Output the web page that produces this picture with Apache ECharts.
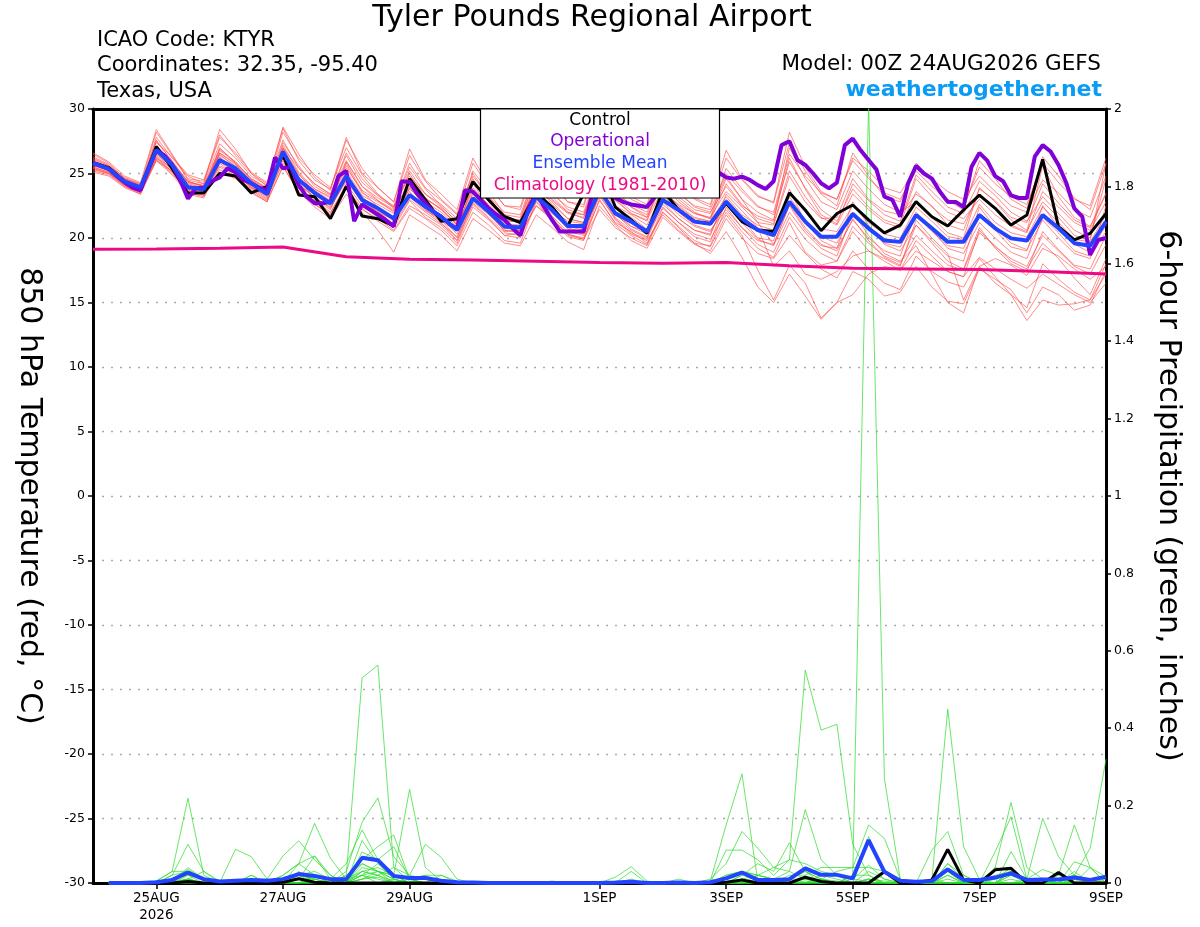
<!DOCTYPE html>
<html>
<head>
<meta charset="utf-8">
<script src="https://cdn.jsdelivr.net/npm/echarts@6/dist/echarts.min.js"></script>
<style>html,body{margin:0;padding:0;background:#fff}#c{width:1200px;height:927px}</style>
</head>
<body>
<div id="c"></div>
<script>
// ---- time coordinates (hours after 00Z 24AUG2026) ----
const hours6 = [0,6,12,18,24,30,36,42,48,54,60,66,72,78,84,90,96,102,108,114,120,126,132,138,144,150,156,162,168,174,180,186,192,198,204,210,216,222,228,234,240,246,252,258,264,270,276,282,288,294,300,306,312,318,324,330,336,342,348,354,360,366,372,378,384];
const hours3 = [0,3,6,9,12,15,18,21,24,27,30,33,36,39,42,45,48,51,54,57,60,63,66,69,72,75,78,81,84,87,90,93,96,99,102,105,108,111,114,117,120,123,126,129,132,135,138,141,144,147,150,153,156,159,162,165,168,171,174,177,180,183,186,189,192,195,198,201,204,207,210,213,216,219,222,225,228,231,234,237,240,243,246,249,252,255,258,261,264,267,270,273,276,279,282,285,288,291,294,297,300,303,306,309,312,315,318,321,324,327,330,333,336,339,342,345,348,351,354,357,360,363,366,369,372,375,378,381,384];
const hoursDaily = [0,24,48,72,96,120,144,168,192,216,240,264,288,312,336,360,384];
const precipHours = [6,12,18,24,30,36,42,48,54,60,66,72,78,84,90,96,102,108,114,120,126,132,138,144,150,156,162,168,174,180,186,192,198,204,210,216,222,228,234,240,246,252,258,264,270,276,282,288,294,300,306,312,318,324,330,336,342,348,354,360,366,372,378,384];

// ---- x tick labels ----
const tickHours = [24,72,120,192,240,288,336,384];
const tickLabels = ['25AUG\n2026','27AUG','29AUG','1SEP','3SEP','5SEP','7SEP','9SEP'];

// ---- 850 hPa temperature (deg C) ----
const controlT = [25.84,25.45,24.37,23.85, 27.08,25.4,23.46,23.5, 25.0,24.8,23.5,24.0, 26.43,23.33,23.2,21.5, 24.0,21.7,21.5,20.93, 24.6,22.95,21.3,21.5, 24.37,22.95,21.65,21.2, 23.5,22.4,20.93,23.46, 25.5,22.4,21.4,20.36, 23.7,22.17,21.27,21.1, 22.69,21.27,20.62,20.5, 23.5,22.17,20.57,21.9, 22.56,21.4,20.4,21.0, 22.82,21.65,20.93,22.17, 23.33,22.3,21.0,21.78, 26.1,20.88,19.85,20.36, 21.9];
const meanT = [25.8,25.35,24.37,23.93, 26.82,25.66,23.93,23.77, 26.05,25.4,24.24,23.4, 26.69,24.5,23.5,22.69, 24.8,22.95,22.3,21.52, 23.33,22.43,21.65,20.62, 23.08,22.04,20.88,20.83, 23.2,22.17,20.93,20.93, 23.72,21.91,21.27,20.5, 22.95,22.17,21.27,21.1, 22.82,21.5,20.62,20.23, 22.82,21.27,20.1,20.1, 21.86,20.75,19.8,19.7, 21.78,20.75,19.7,19.7, 21.78,20.75,19.97,19.8, 21.78,20.75,19.6,19.4, 21.27];
const operationalT = [25.8,25.6,25.35,24.8,24.3,23.9,23.7,25.3,26.8,26.4,
 25.7,24.5,23.05,23.85,23.9,24.4,24.7,25.4,25.1,24.5,
 24.25,23.9,23.7,26.25,25.4,25.5,24.1,23.2,22.7,22.7,
 22.8,24.8,25.2,21.3,22.6,22.2,21.8,21.4,20.9,24.4,
 24.35,23.4,22.7,22.05,21.65,21.1,20.7,23.7,23.6,22.95,
 22.3,21.8,21.4,20.75,20.2,22.2,23.5,22.4,21.4,20.5,
 20.5,20.5,20.5,23.2,24.0,23.5,23.1,22.8,22.6,22.5,
 22.4,23.2,24.2,24.5,24.8,24.9,25.1,25.3,25.4,25.1,
 24.7,24.6,24.75,24.5,24.1,23.8,24.4,27.2,27.5,26.05,
 25.66,25.0,24.24,23.85,24.3,27.2,27.7,26.8,26.05,25.3,
 23.2,22.95,21.65,24.24,25.6,25.0,24.6,23.6,22.8,22.8,
 22.4,25.5,26.6,26.0,24.8,24.4,23.3,23.1,23.1,26.3,
 27.2,26.7,25.66,24.24,22.3,21.65,18.7,19.85,20.0];
const climatologyT = [19.12,19.15,19.2,19.3,18.55,18.35,18.3,18.2,18.1,18.05,18.1,17.85,17.65,17.6,17.55,17.4,17.2];

// ensemble members (temperature)
const memT01 = [26.2,25.6,24.5,24.0, 27.5,26.0,24.3,24.1, 26.8,25.9,24.6,23.9, 27.2,25.1,23.8,23.2, 25.6,23.5,22.8,22.1, 24.2,23.0,22.3,21.0, 23.9,22.5,21.2,21.4, 24.0,22.8,21.5,21.2, 24.6,22.5,21.8,21.0, 23.5,22.6,21.9,21.6, 23.6,22.4,21.2,21.0, 24.8,22.8,21.5,21.6, 24.6,23.0,22.1,21.8, 23.4,22.5,21.0,20.6, 23.8,22.9,21.6,21.2, 24.2,22.7,21.4,20.8, 23.4];
const memT02 = [25.5,25.1,24.1,23.6, 26.3,25.1,23.6,23.4, 25.5,24.8,23.8,23.0, 26.0,23.8,22.9,22.0, 24.0,22.2,21.5,20.6, 22.5,21.8,21.0,19.8, 22.6,21.5,20.2,20.4, 22.5,21.6,20.3,20.0, 22.9,21.2,20.5,19.6, 22.0,20.9,19.8,19.3, 21.8,20.2,17.5,15.2, 17.9,16.5,13.8,15.0, 17.4,16.8,15.5,15.8, 17.8,16.2,15.1,14.9, 17.6,16.8,16.0,14.2, 16.2,15.6,14.4,14.8, 17.5];
const memT03 = [25.9,25.5,24.5,24.1, 27.0,25.8,24.1,23.9, 26.4,25.6,24.4,23.6, 26.9,24.7,23.7,22.9, 25.2,23.3,22.6,21.9, 23.8,22.8,22.0,20.9, 23.5,22.3,21.1,21.0, 23.6,22.2,21.3,21.1, 24.2,22.3,21.6,20.7, 23.4,22.4,21.5,21.3, 23.2,21.8,21.0,20.6, 23.5,22.0,20.7,20.5, 22.5,21.2,20.3,20.0, 22.4,21.3,20.1,19.9, 22.6,21.2,20.4,20.1, 22.4,21.2,19.9,19.7, 21.8];
const memT04 = [26.6,25.9,24.8,24.3, 28.4,26.5,24.6,24.4, 27.8,26.6,25.1,24.3, 28.5,26.0,24.5,23.8, 27.8,25.0,23.9,22.8, 26.9,24.5,23.4,22.2, 26.2,24.1,22.5,22.2, 25.8,24.0,22.8,22.6, 26.4,24.3,23.0,22.4, 25.8,24.0,23.0,22.4, 26.2,24.5,23.2,22.8, 28.2,25.5,23.6,23.0, 26.0,24.6,23.5,23.0, 25.2,24.0,23.0,22.4, 25.5,24.2,23.2,22.6, 25.8,24.3,23.0,22.5, 26.2];
const memT05 = [25.2,24.9,24.0,23.4, 26.0,25.2,23.5,23.2, 25.1,24.6,23.5,22.8, 25.6,23.5,22.6,21.8, 23.8,22.3,21.3,20.5, 22.3,21.5,20.6,19.4, 22.0,21.0,19.8,19.6, 22.8,21.3,20.1,19.8, 23.0,21.1,20.2,19.5, 22.3,21.2,20.3,19.9, 22.0,20.5,19.2,18.5, 21.2,18.9,17.9,18.2, 20.5,19.0,18.2,17.5, 19.8,18.6,17.4,17.0, 20.6,19.3,18.4,17.8, 20.2,19.0,17.8,17.2, 19.5];
const memT06 = [25.6,25.3,24.3,23.7, 26.5,25.5,24.0,23.5, 26.0,25.5,24.2,23.5, 26.6,24.6,23.3,22.6, 24.6,23.0,22.0,21.4, 23.2,22.1,21.5,20.3, 23.0,21.9,20.6,20.4, 23.4,22.0,20.8,20.4, 23.5,21.8,20.9,20.3, 23.0,21.8,20.9,20.5, 22.6,21.3,20.6,20.2, 23.2,21.4,20.1,19.6, 22.0,20.7,19.6,19.3, 21.8,20.5,19.4,19.2, 21.9,20.6,19.3,19.0, 22.5,20.8,19.5,18.9, 21.0];
const memT07 = [26.0,25.5,24.6,24.0, 27.8,26.2,24.8,24.2, 27.3,26.2,24.8,24.1, 27.6,25.4,24.2,23.4, 26.4,24.3,23.3,22.5, 25.8,23.9,22.9,21.8, 25.0,23.2,22.0,21.8, 25.2,23.4,22.4,22.0, 25.5,23.4,22.4,21.8, 24.6,23.2,22.2,21.9, 24.8,23.0,21.2,19.5, 22.6,20.8,19.5,19.0, 21.5,19.8,18.5,17.9, 21.0,19.6,18.2,17.6, 20.8,19.2,18.0,17.4, 20.5,19.1,17.9,17.6, 20.2];
const memT08 = [25.4,25.0,24.2,23.8, 26.2,25.4,23.9,23.6, 25.6,25.0,23.9,23.3, 26.2,24.2,23.1,22.4, 24.4,22.8,22.0,21.0, 23.0,22.0,21.1,20.1, 22.7,21.6,20.4,20.2, 22.5,21.4,20.3,19.9, 22.2,20.8,20.0,19.4, 22.0,20.8,19.6,18.8, 20.5,18.5,16.2,15.0, 17.2,15.5,13.7,15.0, 15.6,17.2,17.8,17.5, 19.0,18.2,17.4,17.0, 18.5,17.6,16.8,16.1, 17.2,16.4,15.6,15.0, 16.5];
const memT09 = [26.3,25.7,24.6,24.2, 27.2,25.9,24.4,24.0, 26.6,25.8,24.6,23.8, 27.4,25.6,24.0,23.3, 26.0,24.0,23.1,22.4, 24.8,23.4,22.6,21.5, 24.4,22.9,21.8,21.6, 24.6,23.0,22.0,21.8, 25.2,23.5,22.6,22.0, 24.8,23.4,22.5,22.2, 25.0,23.6,22.4,22.0, 26.5,24.8,23.5,23.0, 26.2,25.2,23.9,23.5, 25.4,24.6,23.6,23.0, 24.8,23.6,22.5,22.0, 24.5,23.5,22.2,21.6, 24.8];
const memT10 = [25.7,25.2,24.4,23.9, 26.8,25.6,24.2,23.9, 27.0,25.8,24.1,23.4, 26.2,24.1,23.4,22.7, 25.8,23.6,22.4,21.6, 24.0,22.6,21.6,20.6, 24.2,22.4,21.0,20.6, 23.0,21.9,20.9,20.6, 24.0,22.0,20.9,20.5, 22.6,21.5,20.6,20.3, 23.0,21.5,20.0,19.8, 23.8,21.2,19.8,19.2, 21.4,20.0,19.0,18.6, 22.0,20.6,19.2,18.8, 21.2,20.0,18.9,18.4, 21.6,20.4,19.0,18.6, 20.5];
const memT11 = [25.3,25.0,24.1,23.5, 26.6,25.2,23.8,23.3, 26.3,25.2,23.9,23.1, 26.4,24.4,23.4,22.5, 25.0,23.2,22.2,21.3, 23.6,22.2,21.4,20.0, 23.2,22.0,20.5,20.6, 23.8,22.4,21.0,20.7, 23.2,21.6,20.6,20.0, 23.4,22.0,21.0,20.6, 22.2,20.8,19.8,19.5, 22.5,20.6,19.4,19.2, 22.8,21.0,19.5,19.0, 21.0,19.8,18.6,18.2, 22.4,20.8,19.6,19.1, 21.4,20.0,18.8,18.4, 22.5];
const memT12 = [26.1,25.6,24.7,24.2, 27.4,26.3,24.9,24.5, 28.0,26.4,25.0,24.0, 28.2,26.2,24.9,23.9, 27.0,24.9,23.4,22.4, 25.5,23.8,22.5,21.2, 25.2,23.6,21.8,21.2, 24.9,23.2,22.0,21.5, 25.8,23.8,22.4,21.6, 24.4,23.0,22.0,21.5, 25.4,23.8,22.5,21.8, 25.9,23.9,22.2,21.3, 23.8,22.4,21.4,21.0, 24.6,23.2,22.0,21.5, 23.0,21.8,20.9,20.4, 23.6,22.4,21.2,20.6, 22.8];
const memT13 = [25.5,25.1,24.2,23.7, 26.1,25.0,23.6,23.3, 25.3,24.7,23.7,22.9, 25.5,23.6,22.4,21.5, 23.4,22.0,20.6,18.9, 21.8,21.0,20.2,19.0, 21.5,20.6,19.6,19.4, 21.8,20.8,19.7,19.1, 22.5,21.0,19.8,19.2, 21.6,20.5,19.5,19.0, 21.5,20.0,18.8,18.4, 20.2,18.8,17.6,16.9, 19.0,17.6,16.5,16.0, 18.6,17.4,16.6,16.2, 18.4,17.0,15.6,14.6, 18.0,16.8,15.8,15.2, 17.2];
const memT14 = [25.9,25.4,24.3,23.8, 27.1,25.9,24.3,24.0, 26.5,25.5,24.3,23.7, 27.0,24.9,23.8,23.1, 25.4,23.7,22.9,22.0, 24.5,23.1,22.2,21.0, 23.7,22.6,21.4,21.2, 24.2,22.6,21.5,21.2, 24.8,22.9,21.9,21.4, 23.8,22.5,21.6,21.3, 24.2,22.6,21.5,21.1, 25.2,23.2,21.6,21.0, 23.4,22.2,21.2,20.8, 23.6,22.4,21.4,21.1, 23.4,22.3,21.0,20.5, 25.6,23.2,21.6,20.9, 23.5];
const memT15 = [26.5,25.8,24.6,24.1, 28.2,26.4,24.5,24.2, 28.4,26.9,25.0,24.2, 28.6,26.5,24.7,23.7, 27.6,25.4,23.9,22.8, 26.4,24.4,23.0,21.9, 25.8,24.0,22.5,22.4, 26.4,24.2,22.8,22.4, 26.8,24.5,23.2,22.6, 26.2,24.4,23.1,22.6, 26.8,24.6,23.3,22.7, 27.4,25.2,23.4,22.5, 26.6,24.8,23.2,22.8, 25.8,24.4,22.9,22.2, 26.0,24.6,23.0,22.3, 26.3,24.8,23.1,22.2, 25.8];
const memT16 = [25.6,25.2,24.4,23.8, 26.4,25.3,23.7,23.5, 26.2,25.1,24.0,23.2, 25.8,23.8,22.6,21.9, 24.2,22.5,21.6,20.8, 22.9,21.6,20.8,19.6, 22.4,21.4,20.2,20.0, 22.9,21.5,20.2,19.9, 23.4,21.4,20.3,19.8, 21.8,20.6,19.6,19.4, 22.4,20.8,19.5,18.9, 21.6,19.9,18.8,18.2, 20.9,19.6,18.6,18.1, 20.2,19.0,17.9,17.5, 20.4,19.4,18.2,17.6, 19.6,18.4,16.9,15.6, 18.4];
const memT17 = [25.4,25.0,24.0,23.5, 26.0,24.9,23.4,23.1, 25.8,24.9,23.6,22.8, 26.8,24.6,23.0,22.2, 24.8,23.0,21.9,21.0, 23.4,22.2,21.2,19.8, 22.8,21.8,20.6,20.6, 23.4,22.0,20.7,20.3, 23.8,21.9,20.7,20.1, 22.4,21.2,20.1,19.7, 22.9,21.2,19.9,19.4, 22.0,20.4,19.2,18.6, 22.0,20.2,18.8,18.2, 19.4,17.2,15.0,14.2, 17.8,16.5,15.6,13.6, 15.2,14.8,14.9,15.2, 18.0];
const memT18 = [26.0,25.5,24.5,24.0, 26.9,25.7,24.4,24.0, 26.6,25.7,24.5,23.6, 26.8,25.0,23.5,22.8, 25.9,24.0,22.9,22.2, 25.2,23.4,22.4,21.3, 24.8,23.2,21.6,21.1, 24.4,22.9,21.9,21.6, 25.0,23.1,22.1,21.6, 24.2,22.8,21.9,21.5, 24.6,23.0,22.0,21.4, 26.2,23.8,21.8,21.1, 24.2,22.9,21.8,21.3, 24.9,23.6,22.4,21.9, 24.4,23.3,22.0,21.3, 23.2,21.9,20.6,20.0, 24.6];
const memT19 = [25.8,25.4,24.4,23.9, 27.6,25.9,23.9,23.6, 26.9,25.9,24.5,23.8, 27.0,25.4,24.2,23.4, 26.6,24.6,23.3,22.3, 25.0,23.1,22.2,21.1, 24.6,22.8,21.5,21.4, 25.6,23.6,22.2,21.8, 24.8,23.0,21.9,21.3, 25.2,23.6,22.4,22.0, 24.0,22.5,21.7,21.3, 27.0,24.6,22.8,22.2, 25.2,23.8,22.6,22.0, 22.8,21.6,20.4,20.0, 23.9,22.8,21.4,20.6, 22.8,21.6,20.2,19.8, 25.8];
const memT20 = [25.1,24.8,23.9,23.4, 26.2,25.1,23.8,23.4, 25.9,25.1,23.9,23.3, 26.3,24.1,23.2,22.3, 24.6,22.9,22.1,21.0, 23.9,22.5,21.8,20.6, 23.4,22.2,20.9,20.8, 23.2,21.7,20.5,20.2, 23.6,21.5,20.4,19.9, 22.8,21.5,20.6,20.2, 23.4,22.1,20.8,17.8, 19.0,17.2,16.8,17.4, 18.6,19.0,18.4,17.8, 21.4,20.0,18.8,15.2, 17.8,18.4,17.9,17.1, 19.2,18.6,17.6,16.8, 17.8];
const membersT = [memT01,memT02,memT03,memT04,memT05,memT06,memT07,memT08,memT09,memT10,memT11,memT12,memT13,memT14,memT15,memT16,memT17,memT18,memT19,memT20];

// ---- 6-hour precipitation (inches), 06Z 24AUG .. 00Z 9SEP ----
const controlP = [0,0,0,0, 0,0.004,0,0, 0,0,0,0.002, 0.011,0.002,0,0, 0,0,0,0, 0,0,0,0, 0,0,0,0, 0,0,0,0, 0,0,0,0, 0,0,0,0.002, 0.008,0,0,0, 0.015,0.004,0,0, 0,0.029,0,0, 0.008,0.087,0.008,0, 0.034,0.038,0,0, 0.027,0,0,0];
const meanP = [0,0,0,0.002, 0.008,0.027,0.01,0.004, 0.006,0.008,0.006,0.01, 0.023,0.018,0.01,0.01, 0.065,0.059,0.018,0.013, 0.013,0.006,0.002,0.001, 0,0,0,0, 0,0,0,0, 0.001,0.003,0,0, 0.001,0,0.002,0.012, 0.027,0.008,0.008,0.01, 0.038,0.021,0.021,0.012, 0.111,0.029,0.006,0.003, 0.005,0.035,0.008,0.008, 0.014,0.025,0.008,0.009, 0.009,0.014,0.008,0.016];
const memP01 = [0,0,0,0, 0.01,0.035,0.01,0, 0,0.01,0,0.005, 0.02,0.01,0,0.02, 0.53,0.563,0.04,0.005, 0,0,0,0, 0,0,0,0, 0,0,0,0, 0,0,0,0, 0,0,0,0.02, 0.03,0.01,0,0.01, 0.03,0.01,0,0, 0.01,0.005,0,0, 0,0,0,0, 0,0.03,0,0, 0,0,0,0];
const memP02 = [0,0,0,0.005, 0.03,0.219,0.02,0, 0,0,0,0, 0,0.01,0,0, 0.05,0.03,0.01,0, 0,0,0,0, 0,0,0,0, 0,0,0,0, 0,0,0,0, 0,0,0,0.01, 0.03,0.02,0.04,0.06, 0.55,0.395,0.41,0.1, 0.02,0,0,0, 0,0,0,0, 0,0,0,0, 0,0,0,0];
const memP03 = [0,0,0,0, 0,0.04,0.01,0, 0,0,0,0, 0.05,0.07,0.02,0, 0.08,0.06,0.02,0, 0,0,0,0, 0,0,0,0, 0,0,0,0, 0,0,0,0, 0,0,0,0, 0.02,0.01,0,0.01, 0.01,0.005,0,0.02, 2.02,0.27,0.01,0, 0,0.05,0.01,0, 0,0.03,0,0, 0,0,0,0];
const memP04 = [0,0,0,0, 0.02,0.03,0.005,0, 0,0.02,0,0.02, 0.05,0.02,0,0.03, 0.157,0.22,0.068,0.02, 0.01,0,0,0, 0,0,0,0, 0,0,0,0, 0,0,0,0, 0,0,0,0, 0,0,0,0, 0,0,0,0, 0,0,0,0, 0.01,0.449,0.094,0.01, 0,0.02,0,0.01, 0,0,0,0];
const memP05 = [0,0,0,0, 0.02,0.10,0.03,0.005, 0,0.01,0,0, 0.02,0.01,0,0, 0.11,0.05,0.02,0.01, 0,0,0,0, 0,0,0,0, 0,0,0,0, 0,0,0,0, 0,0,0.005,0.15, 0.282,0.005,0,0.01, 0.03,0,0,0, 0.01,0,0,0, 0,0,0,0, 0,0,0,0, 0,0,0,0];
const memP06 = [0,0,0,0, 0,0,0,0, 0,0.01,0,0.02, 0.05,0.154,0.064,0.01, 0.02,0.03,0.01,0, 0,0,0,0, 0,0,0,0, 0,0,0,0, 0,0,0,0, 0,0,0,0, 0.01,0.02,0.01,0.03, 0.19,0.06,0.02,0.01, 0.046,0.01,0,0, 0,0,0,0, 0,0.081,0.01,0, 0,0,0,0];
const memP07 = [0,0,0,0, 0,0.01,0,0, 0.087,0.068,0.01,0.005, 0,0,0,0.01, 0.03,0.04,0.02,0.242, 0.04,0.005,0,0, 0,0,0,0, 0,0,0,0, 0,0,0,0, 0,0,0,0, 0,0,0,0, 0,0,0,0, 0,0,0,0, 0,0.03,0,0, 0.04,0.208,0.04,0.01, 0,0,0,0];
const memP08 = [0,0,0,0, 0,0,0,0, 0,0.01,0.01,0.07, 0.109,0.06,0.02,0, 0.06,0.094,0.124,0.01, 0,0,0,0, 0,0,0,0, 0,0,0,0, 0,0,0,0, 0,0,0,0, 0,0.01,0,0, 0,0,0,0, 0,0,0,0, 0,0,0,0, 0,0,0.01,0.167, 0.068,0.02,0,0];
const memP09 = [0,0,0,0, 0.01,0.03,0.01,0, 0,0,0,0, 0.02,0.03,0.01,0.05, 0.137,0.06,0.094,0.01, 0.02,0,0,0, 0,0,0,0, 0,0,0,0, 0,0,0,0, 0,0,0,0, 0.02,0.05,0.03,0.104, 0.03,0.01,0.005,0, 0,0,0,0, 0.01,0,0,0, 0,0,0,0, 0,0.055,0.04,0];
const memP10 = [0,0,0,0, 0,0.02,0.01,0, 0,0,0.01,0, 0,0,0,0, 0.03,0.02,0.04,0.02, 0.10,0.066,0.01,0, 0,0,0,0, 0,0,0,0, 0,0.01,0,0, 0,0,0,0, 0,0,0,0, 0,0,0,0, 0,0,0,0, 0,0.01,0,0, 0.02,0.03,0.01,0, 0.01,0.02,0.09,0.32];
const memP11 = [0,0,0,0, 0,0.01,0,0, 0,0,0,0, 0,0.02,0.01,0, 0.02,0.01,0,0, 0,0,0,0, 0,0,0,0, 0,0,0,0, 0,0,0,0, 0,0,0.01,0.05, 0.133,0.09,0.04,0.03, 0.01,0.01,0.03,0.04, 0.15,0.115,0.01,0, 0,0,0,0, 0,0.03,0.01,0.035, 0.02,0.15,0.04,0];
const memP12 = [0,0,0,0, 0,0.01,0,0, 0,0,0,0, 0.03,0,0.01,0, 0.01,0.03,0,0.01, 0,0,0,0, 0,0,0,0, 0,0,0,0, 0.015,0.042,0.005,0, 0,0,0,0.085, 0.085,0.06,0.02,0.06, 0.05,0.03,0.02,0, 0.12,0.03,0,0, 0.085,0.133,0.02,0, 0.081,0.171,0.01,0, 0,0.01,0,0];
const memP13 = [0,0,0,0, 0.01,0.02,0,0, 0,0,0,0, 0,0,0,0, 0.04,0.03,0.02,0, 0,0,0,0, 0,0,0,0, 0,0,0,0, 0,0.03,0,0, 0.01,0,0,0, 0.01,0,0,0.02, 0.02,0.04,0.04,0.04, 0.04,0.03,0,0, 0,0.05,0.02,0, 0.04,0.03,0,0.01, 0.01,0,0.04,0.016];
const memP14 = [0,0,0,0.005, 0.03,0.03,0.01,0, 0,0.02,0,0.01, 0.02,0,0,0.02, 0.05,0.03,0.02,0.01, 0.02,0.02,0.005,0, 0,0,0,0, 0.005,0,0,0, 0,0,0,0, 0,0,0,0, 0,0.02,0.01,0, 0.01,0,0,0.01, 0.005,0.03,0,0, 0,0.03,0,0, 0,0,0,0, 0.02,0,0,0];
const memP15 = [0,0,0,0, 0,0.01,0.03,0, 0,0,0,0, 0.01,0.07,0.01,0, 0.02,0.05,0.01,0, 0,0.02,0,0, 0,0,0,0, 0,0,0,0, 0,0,0,0, 0,0,0,0.02, 0.03,0.02,0.01,0, 0,0.01,0,0.02, 0.02,0,0,0, 0,0,0,0, 0.01,0.04,0,0, 0,0.03,0,0.01];
const memP16 = [0,0,0,0, 0,0,0,0, 0,0,0,0, 0,0,0,0, 0.01,0.02,0,0, 0,0,0,0, 0,0,0,0, 0,0,0,0, 0,0,0,0, 0,0,0,0, 0.01,0,0,0, 0,0,0,0, 0.01,0,0,0, 0,0,0,0, 0,0,0,0, 0,0.02,0.01,0];
const memP17 = [0,0,0,0, 0,0.005,0,0, 0,0,0,0, 0.01,0.01,0,0, 0.02,0,0.01,0, 0,0,0,0, 0,0,0,0, 0,0,0,0, 0,0,0,0, 0,0,0,0, 0,0,0,0, 0,0.02,0.01,0, 0,0,0,0, 0,0,0,0, 0,0.01,0,0.01, 0,0,0,0];
const memP18 = [0,0,0,0, 0,0,0,0, 0,0.005,0,0, 0,0,0,0, 0.01,0.015,0,0, 0,0,0,0, 0,0,0,0, 0,0,0,0, 0,0,0,0, 0,0,0,0, 0,0,0,0, 0,0,0,0, 0,0,0,0, 0,0.02,0,0, 0,0,0,0, 0.01,0,0,0];
const memP19 = [0,0,0,0, 0,0,0,0, 0,0,0,0, 0,0,0,0, 0.03,0.02,0.005,0, 0,0,0,0, 0,0,0,0, 0,0,0,0, 0,0.005,0,0, 0,0,0,0, 0,0,0,0, 0,0,0,0, 0.03,0.01,0,0, 0,0,0,0, 0,0.02,0.01,0, 0,0,0,0];
const memP20 = [0,0,0,0, 0.005,0.01,0,0, 0,0,0,0, 0,0.02,0,0, 0,0,0,0, 0,0,0,0, 0,0,0,0, 0,0,0,0, 0,0,0,0, 0,0,0,0, 0,0,0,0, 0.005,0,0,0, 0,0,0,0, 0,0.02,0,0, 0,0,0,0, 0,0,0,0];
const membersP = [memP01,memP02,memP03,memP04,memP05,memP06,memP07,memP08,memP09,memP10,memP11,memP12,memP13,memP14,memP15,memP16,memP17,memP18,memP19,memP20];

// ---- build chart ----
const FONT = '"DejaVu Sans", "Liberation Sans", sans-serif';
function pairs(xs, ys) { return ys.map((v, i) => [xs[i], v]); }
function line(xs, ys, color, width, axis, z, opacity) {
  return { type: 'line', data: pairs(xs, ys), xAxisIndex: 0, yAxisIndex: axis, symbol: 'none', silent: true, z: z,
           lineStyle: { color: color, width: width, opacity: opacity == null ? 1 : opacity }, emphasis: { disabled: true } };
}
const series = [];
membersT.forEach(m => series.push(line(hours6, m, '#ff4a4a', 0.8, 0, 2, 0.8)));
membersP.forEach(m => series.push(line(precipHours, m, '#2fdc2f', 0.8, 1, 3, 0.9)));
series.push(line(hoursDaily, climatologyT, '#ee0a84', 3, 0, 4));
series.push(line(hours6, controlT, '#000000', 3, 0, 5));
series.push(line(precipHours, controlP, '#000000', 3, 1, 5));
series.push(line(hours3, operationalT, '#8000d8', 4, 0, 6));
series.push(line(hours6, meanT, '#2244ff', 4, 0, 7));
series.push(line(precipHours, meanP, '#2244ff', 4, 1, 7));

const labelMap = {};
tickHours.forEach((h, i) => { labelMap[h] = tickLabels[i]; });

// y = visual centre of capital letters
function txt(text, x, y, size, color, align, weight) {
  return { type: 'text', z: 101, silent: true,
    style: { text: text, x: x, y: y, font: (weight || 'normal') + ' ' + size + 'px ' + FONT,
             fill: color, textAlign: align || 'left', textVerticalAlign: 'middle' } };
}

const option = {
  animation: false,
  backgroundColor: '#ffffff',
  grid: { left: 93, right: 94, top: 109, bottom: 44, show: false },
  xAxis: [{
    type: 'value', min: 0, max: 384, position: 'bottom',
    axisLine: { show: true, onZero: false, lineStyle: { color: '#000', width: 3 } },
    axisTick: { show: true, customValues: tickHours, length: 6, lineStyle: { color: '#000', width: 1.5 } },
    axisLabel: { show: true, customValues: tickHours, formatter: v => labelMap[v] || '', color: '#000',
                 fontFamily: FONT, fontSize: 13.5, lineHeight: 17, margin: 7, showMaxLabel: true, showMinLabel: true },
    splitLine: { show: false }
  }, {
    type: 'value', min: 0, max: 384, position: 'top',
    axisLine: { show: true, onZero: false, lineStyle: { color: '#000', width: 3 } },
    axisTick: { show: false }, axisLabel: { show: false }, splitLine: { show: false }
  }],
  yAxis: [
    { type: 'value', min: -30, max: 30, interval: 5, position: 'left',
      axisLine: { show: true, onZero: false, lineStyle: { color: '#000', width: 3 } },
      axisTick: { show: true, length: 5, lineStyle: { color: '#000', width: 1.5 } },
      axisLabel: { color: '#000', fontFamily: FONT, fontSize: 12.5, margin: 8 },
      splitLine: { show: true, lineStyle: { color: '#aaaaaa', width: 1.4, type: [2, 7] } } },
    { type: 'value', min: 0, max: 2, interval: 0.2, position: 'right',
      axisLine: { show: true, onZero: false, lineStyle: { color: '#000', width: 3 } },
      axisTick: { show: true, length: 5, lineStyle: { color: '#000', width: 1.5 } },
      axisLabel: { color: '#000', fontFamily: FONT, fontSize: 12.5, margin: 8 },
      splitLine: { show: false } }
  ],
  series: series,
  graphic: [
    txt('Tyler Pounds Regional Airport', 592, 18.5, 30, '#000', 'center'),
    txt('ICAO Code: KTYR', 97, 40.5, 21, '#000', 'left'),
    txt('Coordinates: 32.35, -95.40', 97, 66, 21, '#000', 'left'),
    txt('Texas, USA', 97, 92, 21, '#000', 'left'),
    txt('Model: 00Z 24AUG2026 GEFS', 1101, 64, 21.5, '#000', 'right'),
    txt('weathertogether.net', 1102, 90, 22, '#0a9bf5', 'right', 'bold'),
    { type: 'rect', z: 100, silent: true, shape: { x: 480.5, y: 109, width: 239, height: 89 },
      style: { fill: '#ffffff', stroke: '#000000', lineWidth: 1.2 } },
    txt('Control', 600, 120.5, 17, '#000000', 'center'),
    txt('Operational', 600, 142, 17, '#8000d8', 'center'),
    txt('Ensemble Mean', 600, 163.5, 17, '#2244ff', 'center'),
    txt('Climatology (1981-2010)', 600, 185.5, 17, '#ee0a84', 'center'),
    { type: 'text', z: 101, silent: true, x: 29, y: 496, rotation: -Math.PI / 2,
      style: { text: '850 hPa Temperature (red, \u00B0C)', x: 0, y: 0, font: '30px ' + FONT, fill: '#000',
               textAlign: 'center', textVerticalAlign: 'middle' } },
    { type: 'text', z: 101, silent: true, x: 1168, y: 496, rotation: -Math.PI / 2,
      style: { text: '6-hour Precipitation (green, inches)', x: 0, y: 0, font: '30px ' + FONT, fill: '#000',
               textAlign: 'center', textVerticalAlign: 'middle' } }
  ]
};
const chart = echarts.init(document.getElementById('c'), null, { renderer: 'canvas' });
chart.setOption(option);
</script>
</body>
</html>
